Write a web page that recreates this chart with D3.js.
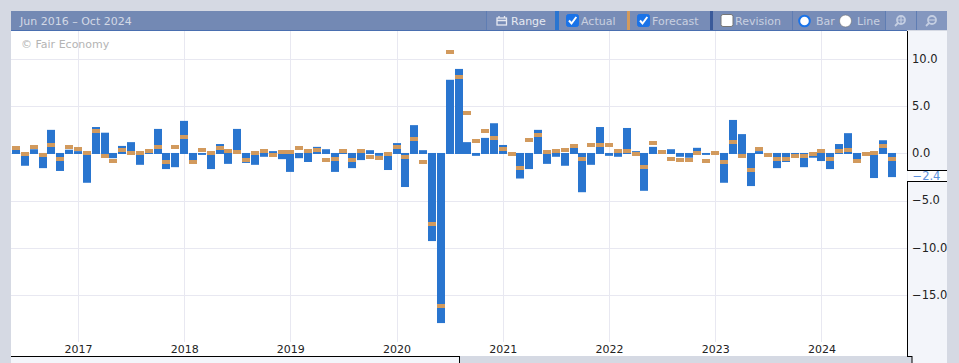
<!DOCTYPE html>
<html><head><meta charset="utf-8">
<style>html,body{margin:0;padding:0;background:#d5d9e3}svg{display:block}text{font-family:"DejaVu Sans",sans-serif}</style>
<script src="https://cdn.jsdelivr.net/npm/d3@7"></script></head><body>
<script>
const actual2016=[.4,-1.3,.45,-1.55,2.5,-1.85,.4];
const actual2017=[.25,-3.1,2.8,2.2,-.5,.8,1.2,-1.2,.1,2.6,-1.65,-1.45];
const actual2018=[3.45,-.7,-.15,-1.65,1,-1.1,2.6,-1,-1.2,-.35,.25,-.6];
const actual2019=[-1.95,-.5,-.9,.7,.45,-1.95,.1,-1.55,-.7,.35,-.25,-1.75];
const actual2020=[1.1,-3.55,3,.35,-9.27,-17.95,7.8,8.95,1.2,-.25,1.65,3.2];
const actual2021=[.9,0,-2.65,-1.65,2.5,-1.1,-.35,-1.3,.6,-4.1,-1.2,2.8];
const actual2022=[-.25,-.35,2.7,.25,-3.95,.7,.1,.45,-.35,-.45,.6,-.15];
const actual2023=[0,-3.1,3.55,2.05,-3.45,.25,-.1,-1.55,-.9,-.3,-1.45,-.45];
const actual2024=[-.8,-1.65,1,2.15,-.6,0,-2.6,1.4,-2.5];
const forecast2016=[.6,-.05,.7,-.15,.9,-.6,.7];
const forecast2017=[.5,.05,2.4,-.25,-.8,.4,.05,.05,.25,.7,-.9,.7];
const forecast2018=[1.75,-.9,.35,.05,.6,.25,.15,-.7,.05,.25,-.15,.15];
const forecast2019=[.15,.6,.25,.35,-.7,-.6,.25,-.7,.25,-.35,-.5,-.05];
const forecast2020=[.7,-.35,1.55,-.9,-7.47,-16.15,10.75,8.1,4.3,1.3,2.4,1.65];
const forecast2021=[.45,-.05,-1.55,1.43,1.95,.15,.25,.35,.8,-.6,.9,.9];
const forecast2022=[.9,.25,.25,-.05,-1.45,1.1,.15,-.6,-.7,-.7,.05,-.8];
const forecast2023=[.05,-.9,1.2,-.25,-1.75,.5,-.15,-.6,-.6,-.25,-.25,-.05];
const forecast2024=[.25,-.6,.25,.35,-.8,-.05,.05,.8,-.6];
const actual=[].concat(actual2016,actual2017,actual2018,actual2019,actual2020,actual2021,actual2022,actual2023,actual2024);
const forecast=[].concat(forecast2016,forecast2017,forecast2018,forecast2019,forecast2020,forecast2021,forecast2022,forecast2023,forecast2024);
const months=d3.utcMonth.range(new Date(Date.UTC(2016,5,1)),new Date(Date.UTC(2024,9,1)));
const yearTicks=[2017,2018,2019,2020,2021,2022,2023,2024];
const valueTicks=[10,5,0,-5,-10,-15];
const titleText="Jun 2016 – Oct 2024";
const lastValue=-2.4;

const W=959,H=363;
const svg=d3.select("body").append("svg").attr("width",W).attr("height",H);
const bg="#d5d9e3", panel="#f3f5fa", grid="#e8e8f1", barC="#2975cf", fcC="#d29a5d";
const rect=(x,y,w,h,f,g=svg)=>g.append("rect").attr("x",x).attr("y",y).attr("width",w).attr("height",h).attr("fill",f);
rect(0,0,W,H,bg);
rect(11,31,896,325,"#fff");
rect(907,31,40,332,panel);
rect(11,357,449,6,panel);

const monthIdx=d=>(d.getUTCFullYear()-2016)*12+d.getUTCMonth()-5;
const x=d3.scaleLinear().domain([0,99]).range([16.0,892.2]);
const y=d3.scaleLinear().domain([10,-15]).range([59,295.2]);
const yearX=yr=>x((yr-2016)*12-5);

const gg=svg.append("g").attr("stroke",grid).attr("stroke-width",1);
gg.selectAll(".v").data(yearTicks).join("line").attr("x1",d=>Math.round(yearX(d))+.5).attr("x2",d=>Math.round(yearX(d))+.5).attr("y1",31).attr("y2",342);
gg.selectAll(".h").data(valueTicks).join("line").attr("x1",11).attr("x2",907).attr("y1",d=>Math.round(y(d))+.5).attr("y2",d=>Math.round(y(d))+.5);

svg.append("text").attr("x",21).attr("y",48).attr("font-size",11).attr("fill","#b4b4b4").text("© Fair Economy");

svg.append("g").selectAll("rect").data(months).join("rect")
 .attr("x",d=>Math.round(x(monthIdx(d))-4)).attr("width",8)
 .attr("y",(d,i)=>Math.min(y(actual[i]),y(0)-.5))
 .attr("height",(d,i)=>Math.abs(y(actual[i])-y(0))+.5)
 .attr("fill",barC);
svg.append("g").selectAll("rect").data(months).join("rect")
 .attr("x",d=>Math.round(x(monthIdx(d))-4)).attr("width",8)
 .attr("y",(d,i)=>Math.round(y(forecast[i])-2)).attr("height",4)
 .attr("fill",fcC);

const axX=svg.append("g").attr("transform","translate(0,353)")
 .call(d3.axisBottom(x).tickValues(yearTicks.map(yr=>(yr-2016)*12-5)).tickSize(0).tickPadding(0).tickFormat(v=>2016+(v+5)/12));
axX.select(".domain").remove();
axX.selectAll("text").attr("y",0).attr("dy","0").attr("font-size",11).attr("font-family",'"DejaVu Sans"').attr("fill","#222");
const axY=svg.append("g").attr("transform","translate(907,-1)")
 .call(d3.axisRight(y).tickValues(valueTicks).tickSize(0).tickPadding(5).tickFormat(d3.format(".1f")));
axY.select(".domain").remove();
axY.selectAll("text").attr("font-size",11.5).attr("font-family",'"DejaVu Sans"').attr("fill","#222").attr("dy","0.36em");

const ln=(x1,y1,x2,y2,c="#000")=>svg.append("line").attr("x1",x1).attr("y1",y1).attr("x2",x2).attr("y2",y2).attr("stroke",c).attr("stroke-width",1);
ln(907.5,31,907.5,170);
ln(907.5,181,907.5,356);
rect(908,171,39,10,"#fff");
ln(907,170.5,947,170.5);
ln(907,181.5,947,181.5);
ln(11,356.5,460,356.5);
ln(459.5,356,459.5,363);
rect(460,356,452,7,bg);
ln(907,356.5,912,356.5);
ln(912,356,912,363);
svg.append("text").attr("x",912.5).attr("y",180).attr("font-size",11.5).attr("fill","#5a90dc").text(d3.format(".1f")(lastValue));

rect(11,11,936,19,"#7389b4");
rect(11,30,896,1,"#4a6fb0");
const hdr=svg.append("g");
const hRect=(x,w,f)=>rect(x,11,w,19,f,hdr);
hRect(487,68,"#778cb7");hRect(559,68,"#778cb7");hRect(630,80,"#778cb7");hRect(713,79,"#778cb7");hRect(793,92,"#778cb7");
hRect(885,32,"#8497bf");hRect(917,30,"#8497bf");
hRect(555,4,"#2a75d0");hRect(627,3,fcC);hRect(710,3,"#3a5a9a");
[486,792,885,916].forEach(v=>hRect(v,1,"#5f7db3"));
const hText=(tx,s,c="#c9d0e0",fs=11)=>hdr.append("text").attr("x",tx).attr("y",25).attr("font-size",fs).attr("fill",c).text(s);
hText(20,titleText,"#d3d9e6",11);
hText(511,"Range","#e6e9f1",11);hText(581,"Actual");hText(652,"Forecast");hText(735,"Revision");hText(816,"Bar");hText(857,"Line");
hdr.append("rect").attr("x",497).attr("y",18).attr("width",9.5).attr("height",7).attr("fill","none").attr("stroke","#e6e9f1").attr("stroke-width",1.3);
hdr.append("path").attr("d","M497 20.5H507M499 16V18M504.5 16V18").attr("stroke","#e6e9f1").attr("stroke-width",1.3).attr("fill","none");
[[566.5,true],[637.5,true],[721,false]].forEach(([cx,on])=>{
 hdr.append("rect").attr("x",cx).attr("y",14.5).attr("width",12).attr("height",12).attr("rx",2).attr("fill",on?"#1a73e8":"#fff").attr("stroke",on?"#1a73e8":"#767676");
 if(on)hdr.append("path").attr("d",`M${cx+2.5} 20.5L${cx+5} 23.5L${cx+9.8} 17`).attr("fill","none").attr("stroke","#fff").attr("stroke-width",2);
});
hdr.append("circle").attr("cx",804.5).attr("cy",21).attr("r",5.3).attr("fill","#fff").attr("stroke","#1a73e8").attr("stroke-width",2);
hdr.append("circle").attr("cx",845.5).attr("cy",21).attr("r",6).attr("fill","#fff").attr("stroke","#767676").attr("stroke-width",.6);
[[901,"M-3 0H3M0 -3V3"],[932,"M-3 0H3"]].forEach(([cx,p])=>{
 const g=hdr.append("g").attr("transform",`translate(${cx},20)`).attr("stroke","#c4cee2").attr("fill","none").attr("stroke-width",1.8);
 g.append("circle").attr("r",4);
 g.append("path").attr("d","M-3 3L-6 6");
 g.append("path").attr("d",p).attr("stroke-width",1.2);
});
</script></body></html>
